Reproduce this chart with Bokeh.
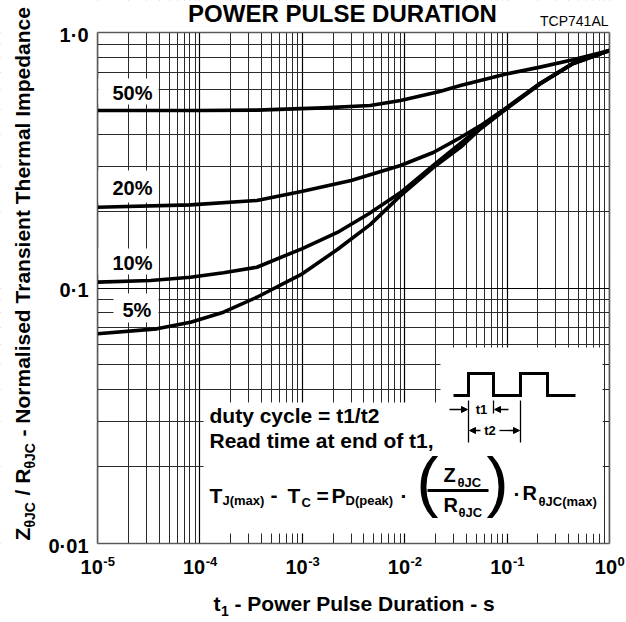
from math import pi, log10
from bokeh.plotting import figure
from bokeh.models import (Range1d, FixedTicker, Label, BoxAnnotation, Arrow,
                          NormalHead, ColumnDataSource)
from bokeh.embed import file_html
from bokeh.resources import INLINE

# ---------------- data ----------------
t_50 = [1e-5, 1.0e-4, 3.6e-4, 1.6e-3, 4.6e-3, 9.1e-3, 2.2e-2, 3.5e-2, 0.1, 0.21, 0.44, 1.0]
z_50 = [0.495, 0.495, 0.497, 0.507, 0.518, 0.542, 0.588, 0.620, 0.689, 0.732, 0.782, 0.850]

t_20 = [1e-5, 8.1e-5, 3.6e-4, 9.8e-4, 3.0e-3, 9.1e-3, 1.9e-2, 3.5e-2, 5.5e-2, 0.1, 0.21, 0.44, 1.0]
z_20 = [0.207, 0.2116, 0.220, 0.2385, 0.2634, 0.3016, 0.3392, 0.388, 0.432, 0.510, 0.633, 0.758, 0.850]

t_10 = [1e-5, 3.3e-5, 8.1e-5, 1.7e-4, 3.6e-4, 1.0e-3, 2.2e-3, 4.5e-3, 9.1e-3, 1.9e-2, 3.5e-2, 5.5e-2, 0.1, 0.21, 0.44, 1.0]
z_10 = [0.1054, 0.107, 0.1102, 0.1147, 0.1206, 0.1427, 0.165, 0.1956, 0.2364, 0.3016, 0.3678, 0.425, 0.507, 0.631, 0.756, 0.850]

t_5 = [1e-5, 3.8e-5, 8.1e-5, 1.7e-4, 3.6e-4, 1.0e-3, 2.2e-3, 4.6e-3, 9.1e-3, 1.9e-2, 3.5e-2, 5.5e-2, 0.1, 0.21, 0.44, 1.0]
z_5 = [0.0662, 0.0692, 0.0735, 0.0804, 0.092, 0.1136, 0.1415, 0.177, 0.230, 0.296, 0.355, 0.420, 0.505, 0.629, 0.754, 0.850]

duty_labels = ["50%", "20%", "10%", "5%"]
x_ticks = [1e-5, 1e-4, 1e-3, 1e-2, 1e-1, 1.0]
x_tick_exp = ["-5", "-4", "-3", "-2", "-1", "0"]
y_ticks = [0.01, 0.1, 1.0]
y_tick_labels = ["0·01", "0·1", "1·0"]
title_text = "POWER PULSE DURATION"
part_no = "TCP741AL"

FONT = "Liberation Sans"
W, H = 626, 622
# plot-area (frame) position in picture pixels
FL, FR, FT, FB = 97, 609, 32, 543


def tx(px):
    return 10 ** (-5 + 5 * (px - FL) / (FR - FL))


def zy(py):
    return 10 ** (-2 * (py - FT) / (FB - FT))


def px_of(t):
    return FL + (FR - FL) * (log10(t) + 5) / 5


def py_of(z):
    return FT - (FB - FT) * log10(z) / 2


p = figure(width=W, height=H, x_axis_type="log", y_axis_type="log",
           x_range=Range1d(tx(0), tx(W)), y_range=Range1d(zy(H), zy(0)),
           output_backend="svg", toolbar_location=None, title=None,
           min_border=0)
p.background_fill_color = "white"
p.border_fill_color = "white"
p.outline_line_color = None

x_minor = [m * t for t in x_ticks[:-1] for m in range(2, 10)]
y_minor = [m * t for t in y_ticks[:-1] for m in range(2, 10)]
xt = FixedTicker(ticks=x_ticks, minor_ticks=x_minor)
yt = FixedTicker(ticks=y_ticks, minor_ticks=y_minor)
p.xaxis.ticker = xt
p.yaxis.ticker = yt
p.xgrid.ticker = xt
p.ygrid.ticker = yt
for g in (p.xgrid, p.ygrid):
    g.grid_line_color = "black"
    g.grid_line_width = 1.2
    g.minor_grid_line_color = "#2a2a2a"
    g.minor_grid_line_width = 1
p.xaxis.visible = False
p.yaxis.visible = False

for tt, zz in ((t_50, z_50), (t_20, z_20), (t_10, z_10), (t_5, z_5)):
    src = ColumnDataSource(dict(t=tt, z=zz))
    p.line("t", "z", source=src, line_color="black", line_width=3.6,
           line_join="round", line_cap="round")


def box(l, r, t, b, fill="white", line=None, lw=1):
    p.add_layout(BoxAnnotation(left=tx(l), right=tx(r), top=zy(t), bottom=zy(b),
                               fill_color=fill, fill_alpha=1.0 if fill else 0.0,
                               line_color=line, line_width=lw, line_alpha=1.0))


def lab(text, px, py, size, bold=True, align="left", baseline="alphabetic", angle=0.0):
    # positions are given as text baselines; drawn with a 'middle' anchor
    if baseline == "alphabetic":
        if angle:
            px = px - 0.35 * size
        else:
            py = py - 0.35 * size
    p.add_layout(Label(x=tx(px), y=zy(py), text=text, text_font=FONT,
                       text_font_size=f"{size}px",
                       text_font_style="bold" if bold else "normal",
                       text_align=align, text_baseline="middle", angle=angle,
                       text_color="black"))


# white masks outside the plot area (grid lines span the whole canvas)
box(-50, FL, -50, H + 50)
box(FR, W + 50, -50, H + 50)
box(-50, W + 50, -50, FT)
box(-50, W + 50, FB, H + 50)
# frame
p.add_layout(BoxAnnotation(left=x_ticks[0], right=x_ticks[-1], bottom=y_ticks[0],
                           top=y_ticks[-1], fill_alpha=0.0, line_color="black",
                           line_width=2.2))

# white backgrounds behind the duty labels and the formula
box(98, 158, 78, 104)
box(98, 158, 170, 202)
box(98, 158, 248, 274)
box(113, 158, 293, 322)
box(203, 602, 402, 533)
box(440, 602, 347, 533)

# duty labels
lab(duty_labels[0], 112, 99, 20)
lab(duty_labels[1], 112, 194, 20)
lab(duty_labels[2], 112, 269, 20)
lab(duty_labels[3], 122, 316, 20)

# y tick labels
for z, s in zip(y_ticks, y_tick_labels):
    lab(s, 88, py_of(z) + 2, 20, align="right", baseline="middle")

# x tick labels  10^n
for t, e in zip(x_ticks, x_tick_exp):
    w_main = 1.112 * 20
    w_exp = sum(0.333 if ch == "-" else 0.556 for ch in e) * 13
    start = px_of(t) - (w_main + w_exp) / 2
    start = min(start, W - 2 - (w_main + w_exp))
    lab("10", start, 573, 20)
    lab(e, start + w_main + 0.5, 566, 13)

# x axis title
lab("t", 213, 610, 21)
lab("1", 220.5, 615, 14)
lab("- Power Pulse Duration - s", 234, 610, 21)

# y axis title (rotated)
bx, sx = 29, 34
lab("Z", bx, 540, 21, angle=pi / 2)
lab("θJC", sx, 527, 14, angle=pi / 2)
lab("/ R", bx, 495, 21, angle=pi / 2)
lab("θJC", sx, 468, 14, angle=pi / 2)
lab("- Normalised Transient Thermal Impedance", bx, 436, 21, angle=pi / 2)

# title and part number
lab(title_text, 342, 21, 24, align="center")
lab(part_no, 608, 25, 14, bold=False, align="right")

# formula block
lab("duty cycle = t1/t2", 209, 422, 21)
lab("Read time at end of t1,", 209, 447, 21)
lab("T", 209, 502, 21)
lab("J(max)", 222, 505, 13)
lab("-", 270, 502, 21)
lab("T", 287, 502, 21)
lab("C", 301, 507, 13)
lab("=", 316, 502, 21)
lab("P", 331, 502, 21)
lab("D(peak)", 345, 505, 13)
lab("·", 400, 502, 21)
lab("(", 416, 504, 66, bold=False)
lab("Z", 443, 481, 20)
lab("θJC", 457, 487, 13)
lab("R", 443, 511, 20)
lab("θJC", 458, 517, 13)
lab(")", 486, 504, 66, bold=False)
lab("·", 513, 500, 21)
lab("R", 522, 499, 20)
lab("θJC(max)", 538, 506, 13)

# fraction bar
p.line([tx(427), tx(488)], [zy(490), zy(490)], line_color="black", line_width=3,
       level="overlay")

# pulse sketch
pulse_px = [453, 468, 468, 493, 493, 520, 520, 547, 547, 575]
pulse_py = [395, 395, 373, 373, 395, 395, 373, 373, 395, 395]
p.line([tx(v) for v in pulse_px], [zy(v) for v in pulse_py], line_color="black",
       line_width=3, line_join="miter", level="overlay")
for vx, y0, y1 in ((468, 400, 442), (493, 400, 413), (520, 400, 442)):
    p.line([tx(vx), tx(vx)], [zy(y0), zy(y1)], line_color="black", line_width=1.3,
           level="overlay")
for x0, x1, yy in ((449, 467, 409), (508, 494, 409), (480, 469, 430), (499, 519, 430)):
    p.add_layout(Arrow(end=NormalHead(size=6, fill_color="black", line_color="black"),
                       x_start=tx(x0), x_end=tx(x1), y_start=zy(yy), y_end=zy(yy),
                       line_color="black", line_width=1.3))
lab("t1", 481, 409, 13, baseline="middle", align="center")
lab("t2", 489.5, 430, 13, baseline="middle", align="center")

open("out.html", "w").write(file_html(p, INLINE))
